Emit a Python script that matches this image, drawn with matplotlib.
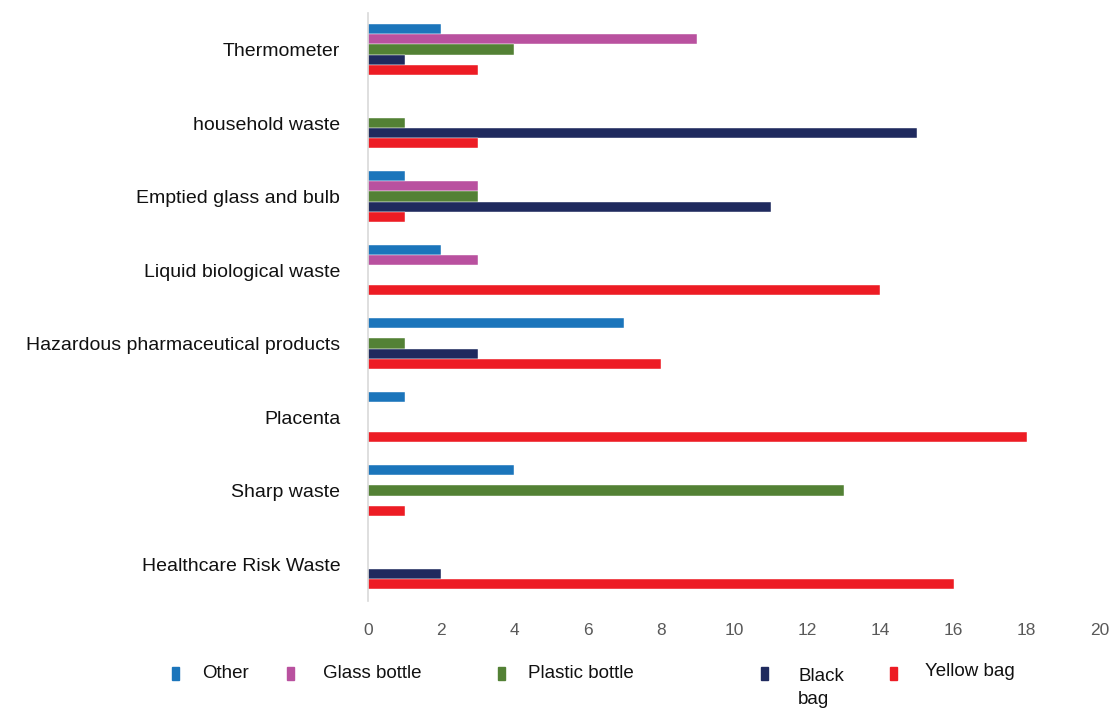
import numpy as np
import matplotlib
matplotlib.use('Agg')
import matplotlib.pyplot as plt
from matplotlib.patches import Rectangle

plt.rcParams['font.family'] = ['Liberation Sans', 'DejaVu Sans']

categories = ['Thermometer', 'household waste', 'Emptied glass and bulb',
              'Liquid biological waste', 'Hazardous pharmaceutical products',
              'Placenta', 'Sharp waste', 'Healthcare Risk Waste']
series = ['Other', 'Glass bottle', 'Plastic bottle', 'Black\nbag', 'Yellow bag']
other = [2, 0, 1, 2, 7, 1, 4, 0]
glass_bottle = [9, 0, 3, 3, 0, 0, 0, 0]
plastic_bottle = [4, 1, 3, 0, 1, 0, 13, 0]
black_bag = [1, 15, 11, 0, 3, 0, 0, 2]
yellow_bag = [3, 3, 1, 14, 8, 18, 1, 16]
xticks = [0, 2, 4, 6, 8, 10, 12, 14, 16, 18, 20]

colors = ['#1b75bb', '#b9519f', '#538135', '#1f2a5e', '#ed1c24']
values = [other, glass_bottle, plastic_bottle, black_bag, yellow_bag]

fig = plt.figure(figsize=(11.13, 7.09), dpi=100)
ax = fig.add_axes([0.3306, 0.1526, 0.6577, 0.8294])

y = np.arange(len(categories))
h = 0.138
for k, (vals, c) in enumerate(zip(values, colors)):
    ax.barh(y + (k - 2) * h, vals, height=h, color=c, edgecolor='white', linewidth=0.3)

ax.set_ylim(len(categories) - 0.5, -0.5)
ax.set_xlim(0, 20)
ax.set_xticks(xticks)
ax.set_yticks(y)
ax.set_yticklabels(categories, fontsize=14, color='#111111')
ax.tick_params(axis='y', length=0, pad=20)
ax.tick_params(axis='x', length=0, pad=16, labelsize=12.5, labelcolor='#595959')
for s in ['top', 'right', 'bottom']:
    ax.spines[s].set_visible(False)
ax.spines['left'].set_color('#d9d9d9')
ax.spines['left'].set_linewidth(1.2)

# legend drawn by hand to follow the uneven spacing
W, H = 1113.0, 709.0
mark_x = [172, 287, 498, 761, 890]
text_x = [202, 323, 528, 798, 925]
text_y = [673, 673, 673, 688, 671]
for lab, c, mx, tx, ty in zip(series, colors, mark_x, text_x, text_y):
    fig.patches.append(Rectangle((mx / W, 1 - 680 / H), 7 / W, 13 / H,
                                 transform=fig.transFigure, color=c))
    fig.text(tx / W, 1 - ty / H, lab, fontsize=13.5, color='#111111',
             ha='left', va='center', linespacing=1.45)

plt.savefig('out.png', dpi=100)
